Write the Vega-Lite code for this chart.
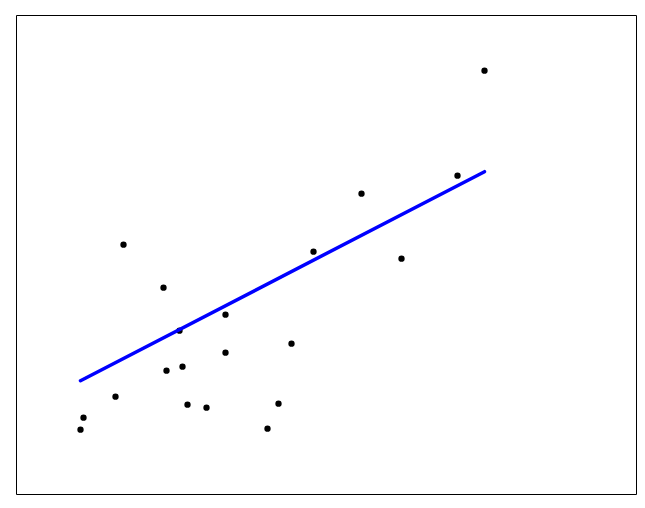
{
  "$schema": "https://vega.github.io/schema/vega-lite/v6.json",
  "width": 620,
  "height": 479,
  "autosize": {"type": "none"},
  "padding": {"left": 16, "top": 15, "right": 9, "bottom": 14},
  "background": "white",
  "config": {"view": {"stroke": "black", "strokeWidth": 1}},
  "datasets": {
    "pts": [
      {"x": 64, "y": 65}, {"x": 67, "y": 77}, {"x": 99, "y": 98}, {"x": 107, "y": 250},
      {"x": 147, "y": 207}, {"x": 150, "y": 124}, {"x": 163, "y": 164}, {"x": 166, "y": 128},
      {"x": 171, "y": 90}, {"x": 190, "y": 87}, {"x": 209, "y": 180}, {"x": 209, "y": 142},
      {"x": 251, "y": 66}, {"x": 262, "y": 91}, {"x": 275, "y": 151}, {"x": 297, "y": 243},
      {"x": 345, "y": 301}, {"x": 385, "y": 236}, {"x": 441, "y": 319}, {"x": 468, "y": 424}
    ],
    "fit": [
      {"x": 64, "y": 114}, {"x": 468, "y": 323}
    ]
  },
  "layer": [
    {
      "data": {"name": "pts"},
      "mark": {"type": "point", "filled": true, "color": "black", "size": 40, "opacity": 1},
      "encoding": {
        "x": {"field": "x", "type": "quantitative", "scale": {"domain": [-0.5, 619.5], "nice": false, "zero": false}, "axis": null},
        "y": {"field": "y", "type": "quantitative", "scale": {"domain": [0.7, 479.7], "nice": false, "zero": false}, "axis": null}
      }
    },
    {
      "data": {"name": "fit"},
      "mark": {"type": "line", "color": "blue", "strokeWidth": 3.5, "strokeCap": "round"},
      "encoding": {
        "x": {"field": "x", "type": "quantitative"},
        "y": {"field": "y", "type": "quantitative"}
      }
    }
  ]
}
